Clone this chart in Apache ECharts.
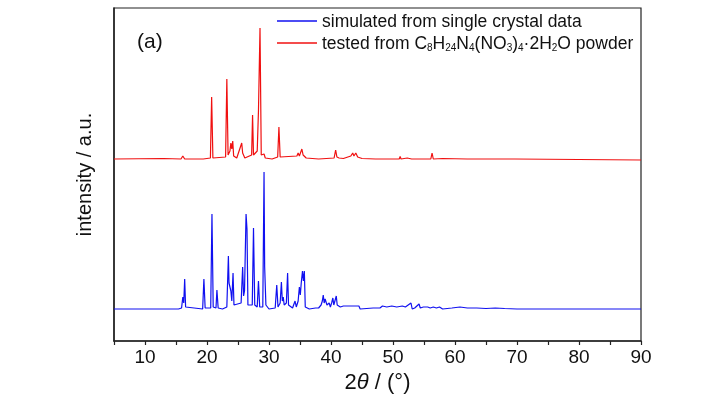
<!DOCTYPE html>
<html>
<head>
<meta charset="utf-8">
<script src="https://cdn.jsdelivr.net/npm/echarts@6/dist/echarts.min.js"></script>
<style>
html,body{margin:0;padding:0;background:#fff;}
#chart{width:728px;height:399px;}
</style>
</head>
<body>
<div id="chart"></div>
<script>
// x-axis range and ticks (2θ, degrees)
const xMin = 5, xMax = 90, xTickStep = 5;
const xTickLabels = [10, 20, 30, 40, 50, 60, 70, 80, 90];

// series names
const seriesNames = ['simulated from single crystal data', 'tested from C8H24N4(NO3)4·2H2O powder'];

// simulated pattern: [2θ, intensity (a.u., offset baseline ≈ 32)]
const simulated = [
  [5,32],[13.0,32],[13.1,34],[13.2,32],
  [15.4,32],[15.5,34],[15.6,32],
  [15.9,33],[16.1,44],[16.25,38],[16.4,62],[16.55,34],[16.8,32],
  [19.3,32],[19.5,62],[19.7,33],
  [20.6,33],[20.8,127],[21.0,34],[21.45,33],[21.6,51],[21.8,33],
  [22.5,32],[23.2,34],[23.45,85],[23.55,58],[23.7,60],[23.85,50],[24.0,40],[24.2,68],[24.35,36],
  [25.5,38],[25.75,74],[25.9,45],[26.05,50],[26.3,127],[26.45,112],[26.6,36],
  [27.3,36],[27.5,113],[27.7,36],[28.1,34],[28.3,60],[28.5,34],
  [29.0,34],[29.2,169],[29.3,74],[29.5,36],[30.0,32],
  [31.0,33],[31.25,56],[31.45,34],[31.8,38],[32.0,59],[32.15,40],[32.3,44],[32.45,36],[32.8,38],[33.0,68],[33.15,36],
  [33.8,33],[34.2,40],[34.4,34],[34.7,40],[34.9,54],[35.05,46],[35.2,58],[35.4,70],[35.55,60],[35.7,70],[35.85,34],
  [36.5,32],[37.5,33],[37.8,35],[38.0,33],[38.4,36],[38.6,40],[38.75,46],[38.9,38],[39.05,42],[39.2,44],[39.35,36],
  [39.7,38],[39.9,34],[40.1,38],[40.3,43],[40.45,36],[40.6,37],[40.85,45],[41.0,36],[41.3,35],[41.5,34],
  [42.0,35],[42.2,33],[42.8,35],[43.0,33],[43.7,35],[43.9,33],[44.5,35],[44.7,32],
  [46.8,33],[47.1,35],[47.3,33],[47.6,34],[47.9,33],[48.3,35],[48.5,33],[49.0,34],[49.3,33],[49.8,35],[50.0,33],
  [50.6,34],[50.8,33],[51.5,35],[51.7,33],[52.0,34],[52.3,32],[52.9,38],[53.1,32],[53.5,33],[54.2,37],[54.4,33],
  [54.9,34],[55.2,33],[55.6,34],[56.0,33],[56.5,34],[57.0,33],[57.5,34],[58.0,32],[59.5,33],[60.8,34],[61.0,32],
  [62,33],[63.5,33],[65.0,32.5],[66.5,33],[68,32.5],[70,32],[90,32]
];

// tested powder pattern: [2θ, intensity (a.u., offset baseline ≈ 182)]
const tested = [
  [5,182],[13,182.5],[15.8,182],[16.1,185],[16.4,182],[19.0,182],[19.2,184],[19.4,182],
  [20.55,183],[20.75,244],[20.95,183],
  [23.0,184],[23.2,262],[23.4,186],[23.7,190],[23.85,198],[24.0,192],[24.15,200],[24.3,185],[24.8,183],
  [25.6,198],[25.75,188],[25.9,190],[26.1,183],[27.2,186],[27.35,226],[27.5,186],
  [28.1,190],[28.3,230],[28.55,313],[28.75,186],[29.2,187],[29.4,183],[30.5,182],
  [31.4,184],[31.6,214],[31.8,184],[32.1,182],[34.5,185],[34.7,188],[34.9,185],[35.3,192],[35.5,186],
  [36,183],[37.0,182.5],[38.0,182],[40.5,183],[40.75,191],[40.95,184],[41.3,183],[42,182.5],
  [43.2,185],[43.5,188],[43.7,185],[44.0,188],[44.3,184],[45,182.5],[47.2,182],[47.4,184],[47.6,182],
  [51.0,182],[51.15,184.5],[51.3,182],[52.3,183],[53,182],[56.1,182],[56.3,188],[56.5,182],
  [58,182.5],[62,182],[69.2,182],[69.4,184],[69.6,182],[80,181.5],[90,181]
];

const FONT = "'Liberation Sans', Arial, sans-serif";
const chart = echarts.init(document.getElementById('chart'));
chart.setOption({
  animation: false,
  backgroundColor: '#fff',
  grid: { left: 114, right: 87, top: 8, bottom: 58, show: true, borderColor: '#222', borderWidth: 1.2 },
  legend: {
    orient: 'vertical', left: 272, top: 8, itemGap: 4, itemWidth: 40, itemHeight: 1.3,
    icon: 'rect',
    data: seriesNames,
    textStyle: {
      fontFamily: FONT, fontSize: 17.5, color: '#111',
      rich: {
        n: { fontFamily: FONT, fontSize: 17.5, color: '#111', lineHeight: 20, verticalAlign: 'bottom' },
        s: { fontFamily: FONT, fontSize: 10, color: '#111', lineHeight: 10, verticalAlign: 'bottom' }
      }
    },
    formatter: function (name) {
      if (name === seriesNames[1]) {
        return '{n|tested from C}{s|8}{n|H}{s|24}{n|N}{s|4}{n|(NO}{s|3}{n|)}{s|4}{n|·2H}{s|2}{n|O powder}';
      }
      return '{n|' + name + '}';
    }
  },
  graphic: [{
    type: 'text', left: 137, top: 32,
    style: { text: '(a)', font: '21px ' + FONT, fill: '#111' }
  }],
  xAxis: {
    type: 'value', min: xMin, max: xMax, interval: xTickStep,
    name: '{n|2}{i|θ}{n| / (°)}', nameLocation: 'middle', nameGap: 30,
    nameTextStyle: {
      rich: {
        n: { fontFamily: FONT, fontSize: 22, color: '#111' },
        i: { fontFamily: FONT, fontSize: 22, fontStyle: 'italic', color: '#111' }
      }
    },
    axisLine: { show: true, lineStyle: { color: '#222', width: 1.5 } },
    axisTick: { show: true, inside: false, length: 4, lineStyle: { color: '#222', width: 1.2 } },
    axisLabel: {
      margin: 7, fontFamily: FONT, fontSize: 19, color: '#111',
      formatter: function (v) { return xTickLabels.indexOf(v) >= 0 ? String(v) : ''; }
    },
    splitLine: { show: false }
  },
  yAxis: {
    type: 'value', min: 0, max: 333,
    name: 'intensity / a.u.', nameLocation: 'middle', nameGap: 19, nameRotate: 90,
    nameTextStyle: { fontFamily: FONT, fontSize: 20, color: '#111' },
    axisLine: { show: true, lineStyle: { color: '#222', width: 1.5 } },
    axisTick: { show: false }, axisLabel: { show: false }, splitLine: { show: false }
  },
  series: [
    { name: seriesNames[0], type: 'line', data: simulated, symbol: 'none', showSymbol: false,
      lineStyle: { color: '#1010f0', width: 1.2 }, itemStyle: { color: '#1010f0' } },
    { name: seriesNames[1], type: 'line', data: tested, symbol: 'none', showSymbol: false,
      lineStyle: { color: '#f01010', width: 1.2 }, itemStyle: { color: '#f01010' } }
  ]
});
</script>
</body>
</html>
